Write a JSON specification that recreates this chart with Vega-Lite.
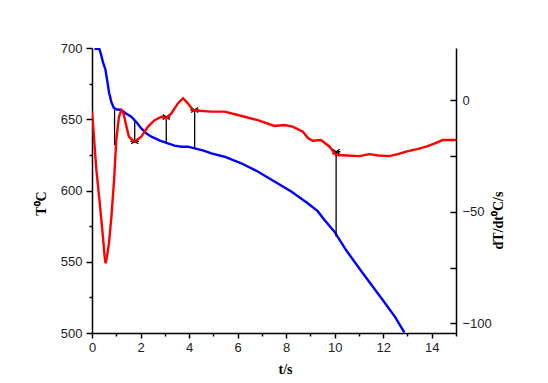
{
  "$schema": "https://vega.github.io/schema/vega-lite/v6.json",
  "width": 364,
  "height": 285,
  "autosize": {"type": "none"},
  "padding": {"left": 92, "top": 48, "right": 92, "bottom": 50},
  "config": {
    "view": {"stroke": null},
    "axis": {
      "labelFont": "Liberation Sans",
      "labelFontSize": 13,
      "labelColor": "#222222",
      "titleFont": "Liberation Serif",
      "titleFontWeight": "bold",
      "titleFontSize": 14,
      "titleColor": "#000000",
      "domainColor": "#000000",
      "domainWidth": 1.5,
      "tickColor": "#000000",
      "tickWidth": 1.5,
      "grid": false
    }
  },
  "datasets": {
    "temp": [
      {"t": 0.1, "T": 699.5}, {"t": 0.3, "T": 699.5}, {"t": 0.38, "T": 695}, {"t": 0.45, "T": 690},
      {"t": 0.55, "T": 685}, {"t": 0.62, "T": 678}, {"t": 0.7, "T": 669}, {"t": 0.8, "T": 662},
      {"t": 0.9, "T": 658}, {"t": 1.0, "T": 657}, {"t": 1.2, "T": 656.5}, {"t": 1.4, "T": 654},
      {"t": 1.62, "T": 651.8}, {"t": 1.85, "T": 647.5}, {"t": 2.03, "T": 643.6}, {"t": 2.25, "T": 640},
      {"t": 2.45, "T": 637.8}, {"t": 2.8, "T": 635}, {"t": 3.13, "T": 633.1}, {"t": 3.4, "T": 631.5},
      {"t": 3.68, "T": 630.7}, {"t": 3.95, "T": 630.8}, {"t": 4.23, "T": 629.6}, {"t": 4.6, "T": 628},
      {"t": 4.92, "T": 626.1}, {"t": 5.46, "T": 623.7}, {"t": 6.15, "T": 619.1}, {"t": 6.83, "T": 613.3},
      {"t": 7.52, "T": 606.3}, {"t": 8.21, "T": 599.3}, {"t": 8.89, "T": 591.0}, {"t": 9.3, "T": 585.5},
      {"t": 9.58, "T": 579.3}, {"t": 9.99, "T": 571.1}, {"t": 10.47, "T": 558.2}, {"t": 11.16, "T": 541.9},
      {"t": 11.98, "T": 523.2}, {"t": 12.5, "T": 511}, {"t": 12.87, "T": 500.5}
    ],
    "rate": [
      {"t": 0.0, "r": -5}, {"t": 0.05, "r": -12}, {"t": 0.11, "r": -20.9}, {"t": 0.18, "r": -31.3},
      {"t": 0.32, "r": -46.2}, {"t": 0.45, "r": -61.2}, {"t": 0.52, "r": -70}, {"t": 0.56, "r": -73.1},
      {"t": 0.62, "r": -70}, {"t": 0.7, "r": -64.1}, {"t": 0.8, "r": -52.2}, {"t": 0.91, "r": -35.8},
      {"t": 1.0, "r": -17.9}, {"t": 1.11, "r": -7.5}, {"t": 1.21, "r": -4.5}, {"t": 1.3, "r": -6.0},
      {"t": 1.42, "r": -11.9}, {"t": 1.52, "r": -16.4}, {"t": 1.69, "r": -18.2}, {"t": 1.76, "r": -18.7},
      {"t": 1.9, "r": -17.5}, {"t": 2.03, "r": -16.4}, {"t": 2.31, "r": -11.9}, {"t": 2.58, "r": -9.0},
      {"t": 2.86, "r": -7.5}, {"t": 3.06, "r": -8.2}, {"t": 3.27, "r": -6.0}, {"t": 3.54, "r": -1.5},
      {"t": 3.75, "r": 0.8}, {"t": 3.95, "r": -1.5}, {"t": 4.16, "r": -4.5}, {"t": 4.43, "r": -4.8},
      {"t": 4.92, "r": -5.2}, {"t": 5.46, "r": -5.2}, {"t": 6.01, "r": -6.7}, {"t": 6.83, "r": -9.0},
      {"t": 7.52, "r": -11.6}, {"t": 7.93, "r": -11.2}, {"t": 8.27, "r": -11.9}, {"t": 8.69, "r": -14.2},
      {"t": 8.9, "r": -17}, {"t": 9.1, "r": -18.2}, {"t": 9.44, "r": -17.9}, {"t": 9.79, "r": -20.9},
      {"t": 10.06, "r": -24.6}, {"t": 10.5, "r": -24.8}, {"t": 11.02, "r": -25.1}, {"t": 11.43, "r": -24.2},
      {"t": 11.8, "r": -24.8}, {"t": 12.25, "r": -25.1}, {"t": 12.6, "r": -24.2}, {"t": 12.94, "r": -23.1},
      {"t": 13.4, "r": -22}, {"t": 13.77, "r": -20.9}, {"t": 14.1, "r": -19.5}, {"t": 14.45, "r": -17.9},
      {"t": 15.0, "r": -17.9}
    ],
    "rules": [
      {"t": 0.93, "y1": 656.5, "y2": 631.9},
      {"t": 1.76, "y1": 648.3, "y2": 635.4},
      {"t": 3.06, "y1": 651.8, "y2": 633.1},
      {"t": 4.23, "y1": 656.5, "y2": 629.6},
      {"t": 10.06, "y1": 627.2, "y2": 567.6}
    ],
    "marks": [
      {"t": 1.76, "T": 634.5},
      {"t": 3.06, "T": 651.5},
      {"t": 4.23, "T": 656.5},
      {"t": 10.06, "T": 627.2}
    ]
  },
  "encoding": {
    "x": {
      "field": "t",
      "type": "quantitative",
      "scale": {"domain": [0, 15], "nice": false, "zero": false},
      "axis": {
        "orient": "bottom",
        "values": [0, 1, 2, 3, 4, 5, 6, 7, 8, 9, 10, 11, 12, 13, 14, 15],
        "labelExpr": "datum.value % 2 === 0 && datum.value < 15 ? datum.label : ''",
        "tickSize": {"condition": {"test": "datum.value % 2 === 0", "value": 5}, "value": 3},
        "labelPadding": 3,
        "labelFlush": false,
        "title": "t/s",
        "titleX": 193,
        "titleY": 36,
        "titleBaseline": "middle",
        "titleAnchor": null
      }
    }
  },
  "layer": [
    {
      "encoding": {
        "y": {
          "field": "T",
          "type": "quantitative",
          "scale": {"domain": [500, 700], "nice": false, "zero": false},
          "axis": {
            "orient": "left",
            "values": [500, 525, 550, 575, 600, 625, 650, 675, 700],
            "labelExpr": "datum.value % 50 === 0 ? datum.label : ''",
            "tickSize": {"condition": {"test": "datum.value % 50 === 0", "value": 6}, "value": 3},
            "labelPadding": 4,
            "labelFlush": false,
            "title": "T⁰C",
            "titleAngle": -90,
            "titleX": -51,
            "titleY": 155,
            "titleAlign": "center",
            "titleBaseline": "middle",
            "titleAnchor": null
          }
        }
      },
      "layer": [
        {
          "data": {"name": "temp"},
          "mark": {"type": "line", "color": "#0000ff", "strokeWidth": 2.4, "clip": true}
        },
        {
          "data": {"name": "rules"},
          "mark": {"type": "rule", "color": "#000000", "strokeWidth": 1.3},
          "encoding": {
            "y": {"field": "y1", "type": "quantitative"},
            "y2": {"field": "y2"}
          }
        },
        {
          "data": {"name": "marks"},
          "mark": {"type": "point", "shape": "M-1,-0.7L1,0.7M-1,0.7L1,-0.7M-1.2,0L1.2,0", "filled": false, "stroke": "#000000", "strokeWidth": 1.3, "size": 50, "opacity": 1}
        }
      ]
    },
    {
      "data": {"name": "rate"},
      "mark": {"type": "line", "color": "#ff0000", "strokeWidth": 2.4, "clip": true},
      "encoding": {
        "y": {
          "field": "r",
          "type": "quantitative",
          "scale": {"domain": [-104.3, 23.3], "nice": false, "zero": false},
          "axis": {
            "orient": "right",
            "values": [-100, -75, -50, -25, 0],
            "labelExpr": "datum.value % 50 === 0 ? datum.label : ''",
            "tickSize": -6,
            "labelPadding": 12,
            "labelFlush": false,
            "title": "dT/dt⁰C/s",
            "titleAngle": -90,
            "titleX": 42,
            "titleY": 172,
            "titleAlign": "center",
            "titleBaseline": "middle",
            "titleAnchor": null
          }
        }
      }
    }
  ],
  "resolve": {"scale": {"y": "independent"}}
}
